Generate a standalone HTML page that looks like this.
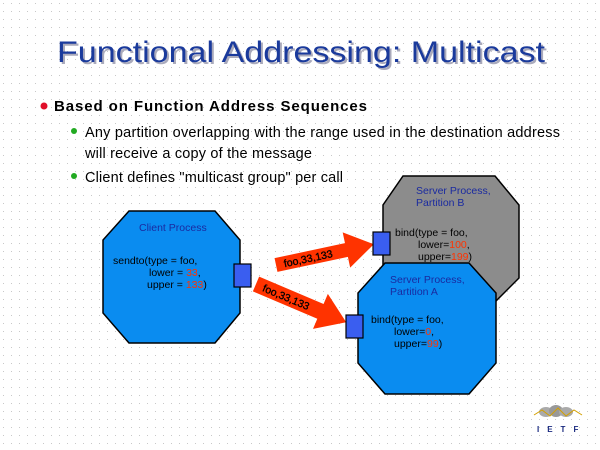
<!DOCTYPE html>
<html><head><meta charset="utf-8"><style>
body{margin:0;width:600px;height:450px;overflow:hidden;background:#fff;}
svg{display:block}
</style></head><body>
<svg width="600" height="450" xmlns="http://www.w3.org/2000/svg" font-family="Liberation Sans, sans-serif">
<defs>
<pattern id="dots" width="8" height="8" patternUnits="userSpaceOnUse"><rect x="3" y="3" width="1" height="1" fill="#c8c8c8"/></pattern>
</defs>
<rect width="600" height="450" fill="#fff"/>
<rect width="600" height="450" fill="url(#dots)"/>
<text x="59" y="64" font-size="30" fill="#aab" textLength="488" lengthAdjust="spacingAndGlyphs">Functional Addressing: Multicast</text>
<text x="57" y="62" font-size="30" fill="#1a3a9c" textLength="488" lengthAdjust="spacingAndGlyphs">Functional Addressing: Multicast</text>
<circle cx="44" cy="106" r="3.5" fill="#e0102a"/>
<text x="54" y="111" font-size="15" font-weight="bold" fill="#000" textLength="313">Based on Function Address Sequences</text>
<circle cx="74" cy="131" r="3" fill="#22aa22"/>
<text x="85" y="137" font-size="14.5" fill="#000" textLength="475">Any partition overlapping with the range used in the destination address</text>
<text x="85" y="158" font-size="14.5" fill="#000" textLength="227">will receive a copy of the message</text>
<circle cx="74" cy="176" r="3" fill="#22aa22"/>
<text x="85" y="182" font-size="14.5" fill="#000" textLength="258">Client defines "multicast group" per call</text>

<polygon points="403,176 495,176 519,205 519,278 495,302 403,302 383,278 383,205" fill="#8c8c8c" stroke="#000" stroke-width="1.5"/>
<text font-size="10.5" fill="#1a2aa0"><tspan x="416" y="194">Server Process,</tspan><tspan x="416" y="206">Partition B</tspan></text>
<text font-size="10.5" fill="#000"><tspan x="395" y="236">bind(type = foo,</tspan><tspan x="418" y="248">lower=<tspan fill="#ff3300">100</tspan>,</tspan><tspan x="418" y="260">upper=<tspan fill="#ff3300">199</tspan>)</tspan></text>

<polygon points="385,263 469,263 496,293 496,363 469,394 385,394 358,363 358,293" fill="#0a8cf0" stroke="#000" stroke-width="1.5"/>
<text font-size="10.5" fill="#1a2aa0"><tspan x="390" y="283">Server Process,</tspan><tspan x="390" y="295">Partition A</tspan></text>
<text font-size="10.5" fill="#000"><tspan x="371" y="323">bind(type = foo,</tspan><tspan x="394" y="335">lower=<tspan fill="#ff3300">0</tspan>,</tspan><tspan x="394" y="347">upper=<tspan fill="#ff3300">99</tspan>)</tspan></text>

<polygon points="129,211 215,211 240,240 240,313 215,343 129,343 103,313 103,240" fill="#0a8cf0" stroke="#000" stroke-width="1.5"/>
<text x="139" y="231" font-size="10.5" fill="#1a2aa0">Client Process</text>
<text font-size="10.5" fill="#000"><tspan x="113" y="264">sendto(type = foo,</tspan><tspan x="149" y="276">lower = <tspan fill="#ff3300">33</tspan>,</tspan><tspan x="147" y="288">upper = <tspan fill="#ff3300">133</tspan>)</tspan></text>

<g transform="translate(276,265) rotate(-12)">
<polygon points="0,-7 72,-7 72,-18 100,0 72,18 72,7 0,7" fill="#ff3300"/>
<text x="8" y="4" font-size="10.5" fill="#000" stroke="#000" stroke-width="0.3">foo,33,133</text>
</g>
<g transform="translate(256,284) rotate(23)">
<polygon points="0,-8 70,-8 70,-19 98,0 70,19 70,8 0,8" fill="#ff3300"/>
<text x="8" y="4" font-size="10.5" fill="#000" stroke="#000" stroke-width="0.3">foo,33,133</text>
</g>

<rect x="234" y="264" width="17" height="23" fill="#3a5ef0" stroke="#000" stroke-width="1.2"/>
<rect x="373" y="232" width="17" height="23" fill="#3a5ef0" stroke="#000" stroke-width="1.2"/>
<rect x="346" y="315" width="17" height="23" fill="#3a5ef0" stroke="#000" stroke-width="1.2"/>

<g>
<ellipse cx="546" cy="412" rx="7" ry="5" fill="#aaa"/>
<ellipse cx="556" cy="411" rx="7" ry="6" fill="#999"/>
<ellipse cx="566" cy="412" rx="7" ry="5" fill="#aaa"/>
<polyline points="534,415 542,410 550,416 558,408 566,416 574,410 582,415" fill="none" stroke="#d4a000" stroke-width="1"/>
<text x="537" y="432" font-size="8" font-weight="bold" fill="#1a2a80" letter-spacing="8">IETF</text>
</g>
</svg>
</body></html>
